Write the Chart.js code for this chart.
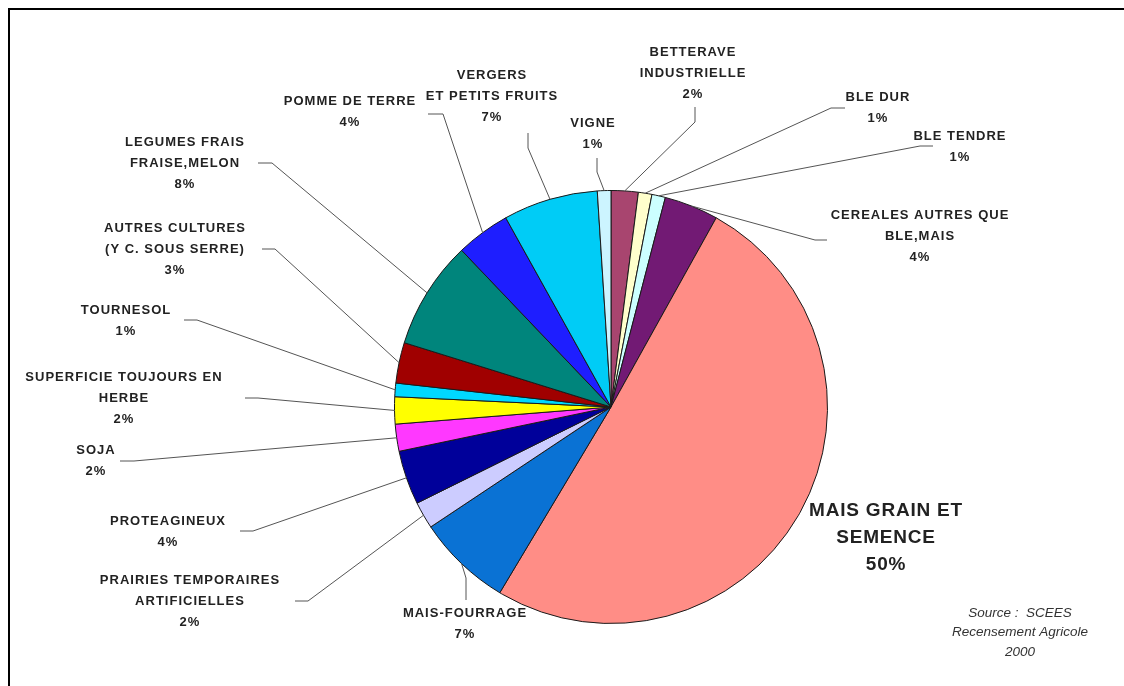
<!DOCTYPE html>
<html lang="fr">
<head>
<meta charset="utf-8">
<title>Assolement - Recensement Agricole 2000</title>
<script src="https://cdn.jsdelivr.net/npm/chart.js@4.4.1/dist/chart.umd.min.js"></script>
<style>
  html, body { margin: 0; padding: 0; background: #fff; }
  #wrap { position: relative; width: 1124px; height: 686px; overflow: hidden; }
</style>
</head>
<body>
<div id="wrap">
  <canvas id="cropChart" width="1124" height="686"></canvas>
</div>
<script>
// Crops, clockwise from 12 o'clock
const categories = [
  'BETTERAVE\nINDUSTRIELLE',
  'BLE DUR',
  'BLE TENDRE',
  'CEREALES AUTRES QUE\nBLE,MAIS',
  'MAIS GRAIN ET\nSEMENCE',
  'MAIS-FOURRAGE',
  'PRAIRIES TEMPORAIRES\nARTIFICIELLES',
  'PROTEAGINEUX',
  'SOJA',
  'SUPERFICIE TOUJOURS EN\nHERBE',
  'TOURNESOL',
  'AUTRES CULTURES\n(Y C. SOUS SERRE)',
  'LEGUMES FRAIS\nFRAISE,MELON',
  'POMME DE TERRE',
  'VERGERS\nET PETITS FRUITS',
  'VIGNE'
];

// Share of the agricultural area (%)
const shares = [2, 1, 1, 4, 50, 7, 2, 4, 2, 2, 1, 3, 8, 4, 7, 1];

const sliceColors = [
  '#a8456f', '#ffffcc', '#ccffff', '#721a74',
  '#ff8d86', '#0a72d4', '#ccccff', '#00009a',
  '#ff38ff', '#ffff00', '#00d8ff', '#a00000',
  '#00857c', '#1e1eff', '#00ccf6', '#ccf4ff'
];

// Where each label sits and the short tick its leader line starts from.
// tick = [x1, y1, x2, y2]; the leader runs from (x2, y2) to the slice rim.
const labelLayout = [
  { x: 693, y: 52,  tick: [695, 107, 695, 122] },
  { x: 878, y: 97,  tick: [845, 108, 831, 108] },
  { x: 960, y: 136, tick: [933, 146, 920, 146] },
  { x: 920, y: 215, tick: [827, 240, 815, 240] },
  { x: 886, y: 511, big: true },
  { x: 465, y: 613, tick: [466, 600, 466, 578] },
  { x: 190, y: 580, tick: [295, 601, 308, 601] },
  { x: 168, y: 521, tick: [240, 531, 253, 531] },
  { x: 96,  y: 450, tick: [120, 461, 134, 461] },
  { x: 124, y: 377, tick: [245, 398, 258, 398] },
  { x: 126, y: 310, tick: [184, 320, 197, 320] },
  { x: 175, y: 228, tick: [262, 249, 275, 249] },
  { x: 185, y: 142, tick: [258, 163, 272, 163] },
  { x: 350, y: 101, tick: [428, 114, 443, 114] },
  { x: 492, y: 75,  tick: [528, 133, 528, 148] },
  { x: 593, y: 123, tick: [597, 158, 597, 172] }
];

// Frame around the whole figure
const framePlugin = {
  id: 'frame',
  beforeDraw(chart) {
    const ctx = chart.ctx;
    ctx.save();
    ctx.fillStyle = '#fff';
    ctx.fillRect(0, 0, chart.width, chart.height);
    ctx.strokeStyle = '#000';
    ctx.lineWidth = 2;
    ctx.strokeRect(9, 9, chart.width + 20, chart.height + 20);
    ctx.restore();
  }
};

// Category labels with leader lines, plus the source note
const labelPlugin = {
  id: 'sliceLabels',
  afterDatasetsDraw(chart) {
    const ctx = chart.ctx;
    const arcs = chart.getDatasetMeta(0).data;
    ctx.save();
    arcs.forEach((arc, i) => {
      const lay = labelLayout[i];
      const lines = categories[i].split('\n').concat(shares[i] + '%');

      if (lay.tick) {
        const mid = (arc.startAngle + arc.endAngle) / 2;
        const rx = arc.x + Math.cos(mid) * arc.outerRadius;
        const ry = arc.y + Math.sin(mid) * arc.outerRadius;
        const t = lay.tick;
        ctx.strokeStyle = '#555';
        ctx.lineWidth = 1;
        ctx.beginPath();
        ctx.moveTo(t[0], t[1]);
        ctx.lineTo(t[2], t[3]);
        ctx.lineTo(rx, ry);
        ctx.stroke();
      }

      ctx.fillStyle = '#222';
      ctx.textAlign = 'center';
      ctx.textBaseline = 'middle';
      const size = lay.big ? 19 : 13;
      const gap = lay.big ? 27 : 21;
      ctx.font = 'bold ' + size + 'px "Liberation Sans", Arial, sans-serif';
      ctx.letterSpacing = lay.big ? '0.8px' : '1px';
      lines.forEach((txt, k) => ctx.fillText(txt, lay.x, lay.y + k * gap));
    });

    ctx.letterSpacing = '0px';
    ctx.font = 'italic 13.5px "Liberation Sans", Arial, sans-serif';
    ctx.fillStyle = '#333';
    ['Source :  SCEES', 'Recensement Agricole', '2000'].forEach((txt, k) => {
      ctx.fillText(txt, 1020, 613 + k * 19.5);
    });
    ctx.restore();
  }
};

const ctx = document.getElementById('cropChart').getContext('2d');
new Chart(ctx, {
  type: 'pie',
  data: {
    labels: categories,
    datasets: [{
      data: shares,
      backgroundColor: sliceColors,
      borderColor: '#1a1a1a',
      borderWidth: 1
    }]
  },
  options: {
    responsive: false,
    animation: false,
    layout: {
      padding: { left: 394, right: 296, top: 190, bottom: 62 }
    },
    plugins: {
      legend: { display: false },
      tooltip: { enabled: false }
    }
  },
  plugins: [framePlugin, labelPlugin]
});
</script>
</body>
</html>
